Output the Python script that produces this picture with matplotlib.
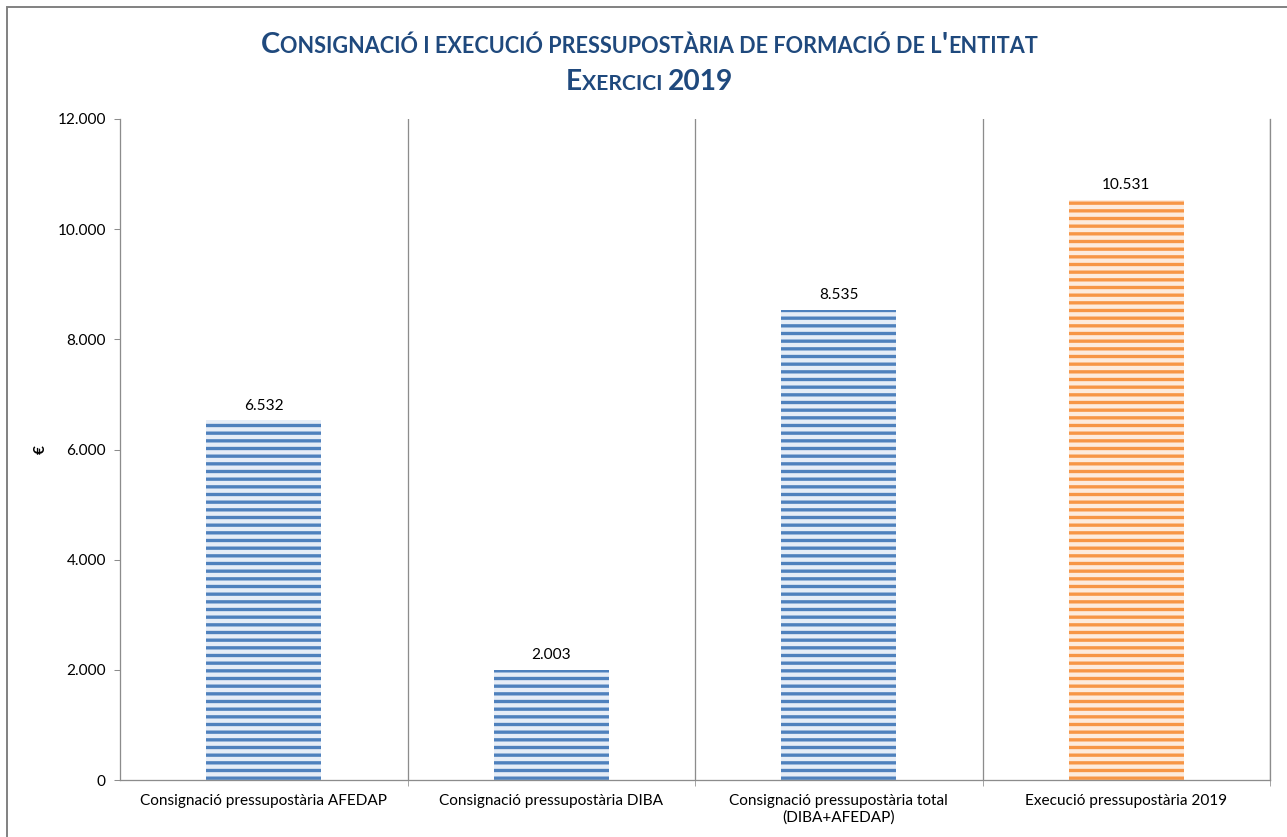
import matplotlib
matplotlib.use('Agg')
import matplotlib.pyplot as plt
from matplotlib.ticker import FixedLocator, FuncFormatter
from matplotlib.patches import Rectangle
import numpy as np

categories = ["Consignació pressupostària AFEDAP",
              "Consignació pressupostària DIBA",
              "Consignació pressupostària total\n(DIBA+AFEDAP)",
              "Execució pressupostària 2019"]
values = [6532, 2003, 8535, 10531]
stripe_colors = ['#4F81BD', '#4F81BD', '#4F81BD', '#F79646']
face_colors = ['#E6EDF7', '#E6EDF7', '#E6EDF7', '#FDEBDD']
y_ticks = [0, 2000, 4000, 6000, 8000, 10000, 12000]
title_line1 = [("C", True), ("ONSIGNACIÓ I EXECUCIÓ PRESSUPOSTÀRIA DE FORMACIÓ DE L", False),
               ("'", True), ("ENTITAT", False)]
title_line2 = [("E", True), ("XERCICI ", False), ("2019", True)]

FONT = 'Lato'
GRAY = '#8C8C8C'
TITLE_COLOR = '#1F497D'
W, H = 1287, 837
DPI = 92
FS = 12

plt.rcParams['hatch.linewidth'] = 2.6
plt.rcParams['font.family'] = [FONT, 'DejaVu Sans']

fig = plt.figure(figsize=(W / DPI, H / DPI), dpi=DPI)
ax = fig.add_axes([120 / W, 1 - 780 / H, 1150 / W, 661 / H])

x = np.arange(len(values))
for i in range(len(values)):
    ax.bar(x[i], values[i], width=0.4, color=face_colors[i], edgecolor=stripe_colors[i],
           linewidth=0, hatch='--', zorder=2)
    ax.annotate(f"{values[i]:,}".replace(',', '.'), (x[i], values[i]), xytext=(0, 6),
                textcoords='offset points', ha='center', va='bottom', fontsize=FS, color='black')

ax.set_xlim(-0.5, len(values) - 0.5)
ax.set_ylim(0, 12000)
ax.yaxis.set_major_locator(FixedLocator(y_ticks))
ax.yaxis.set_major_formatter(FuncFormatter(lambda v, p: f"{int(v):,}".replace(',', '.')))
ax.set_xticks(x)
ax.set_xticklabels(categories)
ax.xaxis.set_minor_locator(FixedLocator(np.arange(0.5, len(values), 1.0)))
ax.tick_params(axis='x', which='major', length=0, pad=11, labelsize=FS)
ax.tick_params(axis='x', which='minor', length=5, color=GRAY, direction='out')
ax.tick_params(axis='y', which='major', length=5, color=GRAY, direction='out', labelsize=FS, pad=6)
ax.grid(which='minor', axis='x', color=GRAY, linewidth=1, zorder=1)
for s in ['left', 'bottom', 'right']:
    ax.spines[s].set_color(GRAY)
    ax.spines[s].set_linewidth(1)
ax.spines['top'].set_visible(False)

ax.set_ylabel('€', fontweight='bold', fontsize=FS, rotation=90)
ax.yaxis.set_label_coords(-0.063, 0.5)

# outer border (bottom and right edges fall outside the image, as in the reference)
fig.patches.append(Rectangle((7 / W, -10 / H), (W + 10 - 7) / W, (H - 7 + 10) / H,
                             transform=fig.transFigure, fill=False, edgecolor='#7F7F7F',
                             linewidth=1.5))


def smallcaps_line(segments, baseline_px, target_width, big=20.0, ratio=0.75):
    texts = []
    for t, b in segments:
        texts.append(fig.text(0, 0, t, fontsize=big if b else big * ratio, fontweight='bold',
                              color=TITLE_COLOR, va='baseline', ha='left'))
    fig.canvas.draw()
    r = fig.canvas.get_renderer()
    total = sum(t.get_window_extent(r).width for t in texts)
    s = target_width / total
    for t, (txt, b) in zip(texts, segments):
        t.set_fontsize((big if b else big * ratio) * s)
    fig.canvas.draw()
    widths = [t.get_window_extent(r).width for t in texts]
    total = sum(widths)
    xpos = (W - total) / 2 + 6
    for t, w in zip(texts, widths):
        t.set_position((xpos / W, 1 - baseline_px / H))
        xpos += w


smallcaps_line(title_line1, 53, 775)
smallcaps_line(title_line2, 90, 166)

fig.savefig('out.png', dpi=DPI)
